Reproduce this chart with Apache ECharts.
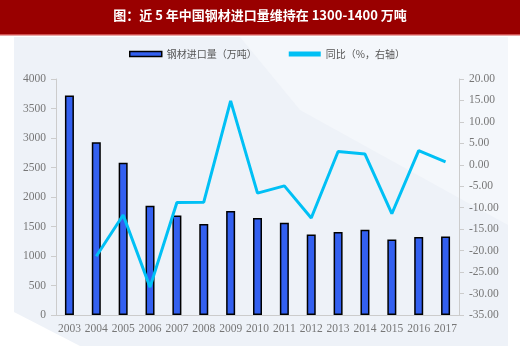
<!DOCTYPE html>
<html><head><meta charset="utf-8">
<script src="https://cdn.jsdelivr.net/npm/echarts@6/dist/echarts.min.js"></script>
<style>html,body{margin:0;padding:0;background:#fff;}#c{width:520px;height:355px;}</style>
</head><body><div id="c"></div>
<script>
const years = ['2003','2004','2005','2006','2007','2008','2009','2010','2011','2012','2013','2014','2015','2016','2017'];
const imports = [3720, 2930, 2582, 1851, 1687, 1543, 1763, 1643, 1563, 1366, 1408, 1443, 1278, 1321, 1330];
const yoy = [null, -21.3, -11.7, -28.5, -8.8, -8.7, 14.9, -6.6, -4.9, -12.4, 3.1, 2.5, -11.4, 3.3, 0.7];
const leftTicks = {min: 0, max: 4000, interval: 500};
const rightTicks = {min: -35, max: 20, interval: 5};

const chart = echarts.init(document.getElementById('c'), null, {renderer: 'canvas'});
const axisFont = {fontFamily: 'Liberation Serif', fontSize: 11.5, color: '#777'};
chart.setOption({
  animation: false,
  backgroundColor: '#fff',
  graphic: [
    {type: 'polygon', z: -10, shape: {points: [[14,37],[508,37],[508,346],[80,346],[14,312]]}, style: {fill: '#eef2f8'}},
    {type: 'polygon', z: -9, shape: {points: [[240,37],[508,37],[508,225],[300,110]]}, style: {fill: '#f4f7fb'}},
    {type: 'rect', z: 10, shape: {x: 0, y: 0, width: 520, height: 34}, style: {fill: '#990000'}},
    {type: 'rect', z: 10, shape: {x: 0, y: 34, width: 520, height: 1.5}, style: {fill: '#d05050'}},
    {type: 'text', z: 11, left: 'center', top: 9, style: {text: '图：近 5 年中国钢材进口量维持在 1300-1400 万吨', fill: '#fff', font: 'bold 13px "Noto Sans CJK SC"'}}
  ],
  legend: {
    top: 44, left: 124, itemGap: 32, itemWidth: 32, itemHeight: 5,
    textStyle: {fontFamily: 'Noto Sans CJK SC', fontSize: 10, color: '#555'},
    data: [
      {name: '钢材进口量（万吨）', icon: 'rect', itemStyle: {color: '#3360f0', borderColor: '#000', borderWidth: 1.5}},
      {name: '同比（%，右轴）', icon: 'rect', itemStyle: {color: '#00c0f5'}}
    ]
  },
  grid: {left: 56, right: 61, top: 79, bottom: 40},
  xAxis: {
    type: 'category', data: years,
    axisLine: {lineStyle: {color: '#ccc'}}, axisTick: {show: false},
    axisLabel: Object.assign({margin: 8, interval: 0}, axisFont)
  },
  yAxis: [
    {type: 'value', min: leftTicks.min, max: leftTicks.max, interval: leftTicks.interval,
     axisLine: {show: true, lineStyle: {color: '#ccc'}}, axisTick: {show: true, lineStyle: {color: '#ccc'}},
     splitLine: {show: false}, axisLabel: Object.assign({margin: 10, formatter: v => String(v)}, axisFont)},
    {type: 'value', min: rightTicks.min, max: rightTicks.max, interval: rightTicks.interval,
     axisLine: {show: true, lineStyle: {color: '#ccc'}}, axisTick: {show: true, lineStyle: {color: '#ccc'}},
     splitLine: {show: false}, axisLabel: Object.assign({margin: 10, formatter: v => v.toFixed(2)}, axisFont)}
  ],
  series: [
    {name: '钢材进口量（万吨）', type: 'bar', data: imports, barWidth: 9, yAxisIndex: 0,
     itemStyle: {color: '#3360f0', borderColor: '#000', borderWidth: 1.5}},
    {name: '同比（%，右轴）', type: 'line', data: yoy, yAxisIndex: 1, symbol: 'none',
     lineStyle: {color: '#00c0f5', width: 3}, itemStyle: {color: '#00c0f5'}}
  ]
});
</script></body></html>
